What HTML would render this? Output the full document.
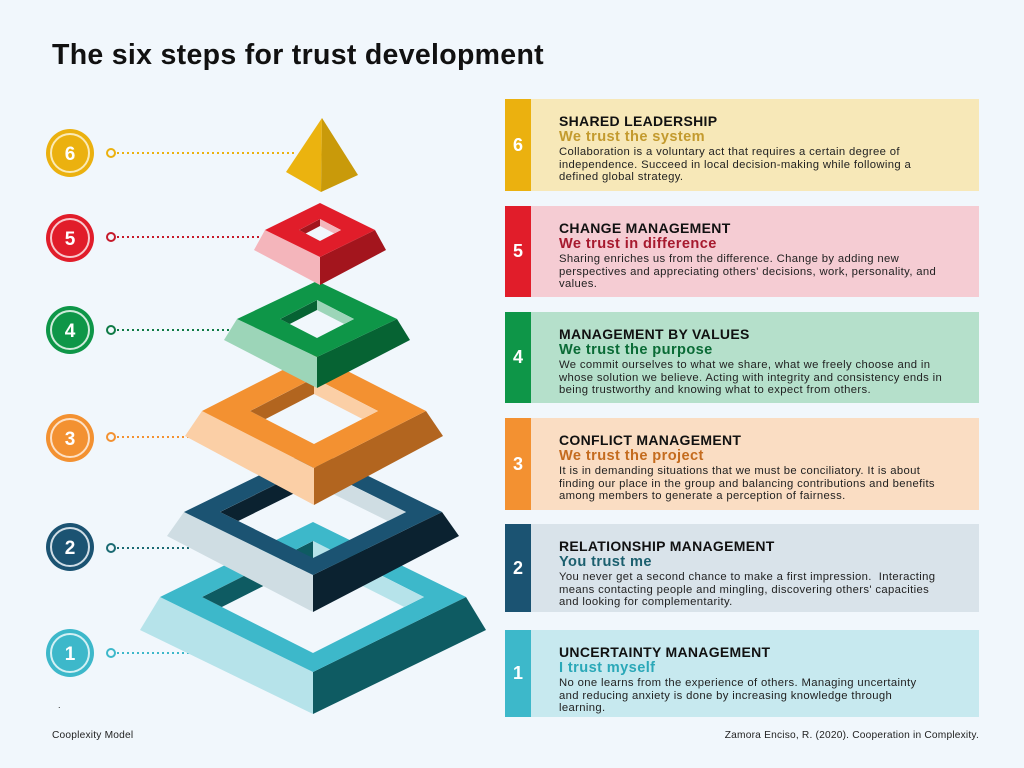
<!DOCTYPE html>
<html><head><meta charset="utf-8"><style>
body{margin:0;width:1024px;height:768px;background:#F1F7FC;position:relative;overflow:hidden;font-family:"Liberation Sans",sans-serif;}
h1{position:absolute;left:52px;top:39px;margin:0;font-size:28.5px;font-weight:bold;color:#111;letter-spacing:0.3px}
.card{position:absolute;left:505px;width:474px}
.strip{position:absolute;left:0;top:0;bottom:0;width:26px;color:#fff;font-weight:bold;font-size:18px;display:flex;align-items:center;justify-content:center}
.tx{position:absolute;left:54px;top:14px;width:420px}
.t{font-size:14px;font-weight:bold;color:#111;line-height:16px;letter-spacing:0.3px}
.s{font-size:14.6px;font-weight:bold;line-height:16px;letter-spacing:0.4px;margin-bottom:1px}
.b{font-size:11.3px;color:#222;line-height:12.5px;letter-spacing:0.35px;white-space:nowrap}
.foot{position:absolute;top:730px;font-size:10.2px;color:#222;letter-spacing:0.2px}
</style></head><body>
<h1>The six steps for trust development</h1>
<svg width="1024" height="768" style="position:absolute;left:0;top:0">
<defs>
<clipPath id="h1"><path d="M313 541L424 597L313 653L202 597Z"/></clipPath>
<clipPath id="h2"><path d="M313 466L406 512L313 558L220 512Z"/></clipPath>
<clipPath id="h3"><path d="M314 378L378 411L314 444L250 411Z"/></clipPath>
<clipPath id="h4"><path d="M317 300L354 319L317 338L280 319Z"/></clipPath>
<clipPath id="h5"><path d="M320 219L341 230L320 241L299 230Z"/></clipPath>
</defs>
<g font-family="Liberation Sans, sans-serif" font-weight="bold" font-size="19" fill="#fff" text-anchor="middle">
<g><circle cx="70" cy="153" r="24" fill="#EBB10F"/><circle cx="70" cy="153" r="19" fill="none" stroke="#FBEAB5" stroke-width="2"/><text x="70" y="160">6</text></g>
<g><circle cx="70" cy="238" r="24" fill="#E11D2A"/><circle cx="70" cy="238" r="19" fill="none" stroke="#F8C8CC" stroke-width="2"/><text x="70" y="245">5</text></g>
<g><circle cx="70" cy="330" r="24" fill="#0E9648"/><circle cx="70" cy="330" r="19" fill="none" stroke="#CFEBDB" stroke-width="2"/><text x="70" y="337">4</text></g>
<g><circle cx="70" cy="438" r="24" fill="#F39131"/><circle cx="70" cy="438" r="19" fill="none" stroke="#FDE0C4" stroke-width="2"/><text x="70" y="445">3</text></g>
<g><circle cx="70" cy="547" r="24" fill="#1B5372"/><circle cx="70" cy="547" r="19" fill="none" stroke="#CFDDE6" stroke-width="2"/><text x="70" y="554">2</text></g>
<g><circle cx="70" cy="653" r="24" fill="#3DB8CA"/><circle cx="70" cy="653" r="19" fill="none" stroke="#D3F0F4" stroke-width="2"/><text x="70" y="660">1</text></g>
</g>
<g fill="none" stroke-width="2">
<circle cx="111" cy="153" r="4" stroke="#EBB10F"/><line x1="117" y1="153" x2="296" y2="153" stroke="#EBB10F" stroke-dasharray="2 3"/>
<circle cx="111" cy="237" r="4" stroke="#C61A2A"/><line x1="117" y1="237" x2="263" y2="237" stroke="#C61A2A" stroke-dasharray="2 3"/>
<circle cx="111" cy="330" r="4" stroke="#0E7A45"/><line x1="117" y1="330" x2="246" y2="330" stroke="#0E7A45" stroke-dasharray="2 3"/>
<circle cx="111" cy="437" r="4" stroke="#F39131"/><line x1="117" y1="437" x2="221" y2="437" stroke="#F39131" stroke-dasharray="2 3"/>
<circle cx="111" cy="548" r="4" stroke="#1B6A72"/><line x1="117" y1="548" x2="204" y2="548" stroke="#1B6A72" stroke-dasharray="2 3"/>
<circle cx="111" cy="653" r="4" stroke="#3DB8CA"/><line x1="117" y1="653" x2="204" y2="653" stroke="#3DB8CA" stroke-dasharray="2 3"/>
</g>
<polygon points="160,597 313,672 313,714 140,630" fill="#B6E3EA"/>
<polygon points="313,672 466,597 486,630 313,714" fill="#0E5B62"/>
<path d="M313 522L466 597L313 672L160 597Z M313 541L424 597L313 653L202 597Z" fill="#3DB8CA" fill-rule="evenodd"/>
<g clip-path="url(#h1)"><polygon points="202,597 313,541 313,561 202,617" fill="#0E5B62"/><polygon points="313,541 424,597 424,617 313,561" fill="#B6E3EA"/></g>
<polygon points="184,512 313,575 313,612 167,536" fill="#CFDDE3"/>
<polygon points="313,575 442,512 459,536 313,612" fill="#0B2230"/>
<path d="M313 449L442 512L313 575L184 512Z M313 466L406 512L313 558L220 512Z" fill="#1B5372" fill-rule="evenodd"/>
<g clip-path="url(#h2)"><polygon points="220,512 313,466 313,484 220,530" fill="#0B2230"/><polygon points="313,466 406,512 406,530 313,484" fill="#CFDDE3"/></g>
<polygon points="202,411 314,468 314,505 185,436" fill="#FBCFA6"/>
<polygon points="314,468 426,411 443,436 314,505" fill="#B2651F"/>
<path d="M314 354L426 411L314 468L202 411Z M314 378L378 411L314 444L250 411Z" fill="#F39131" fill-rule="evenodd"/>
<g clip-path="url(#h3)"><polygon points="250,411 314,378 314,394 250,427" fill="#B2651F"/><polygon points="314,378 378,411 378,427 314,394" fill="#FBCFA6"/></g>
<polygon points="237,319 317,357 317,388 224,340" fill="#9CD5B8"/>
<polygon points="317,357 397,319 410,340 317,388" fill="#066333"/>
<path d="M317 281L397 319L317 357L237 319Z M317 300L354 319L317 338L280 319Z" fill="#0E9648" fill-rule="evenodd"/>
<g clip-path="url(#h4)"><polygon points="280,319 317,300 317,310 280,329" fill="#066333"/><polygon points="317,300 354,319 354,329 317,310" fill="#9CD5B8"/></g>
<polygon points="265,230 320,257 320,285 254,250" fill="#F4B5BB"/>
<polygon points="320,257 375,230 386,250 320,285" fill="#A3151D"/>
<path d="M320 203L375 230L320 257L265 230Z M320 219L341 230L320 241L299 230Z" fill="#E11D2A" fill-rule="evenodd"/>
<g clip-path="url(#h5)"><polygon points="299,230 320,219 320,226 299,237" fill="#A3151D"/><polygon points="320,219 341,230 341,237 320,226" fill="#F4B5BB"/></g>
<polygon points="322,118 286,172 321,192" fill="#EBB30F"/>
<polygon points="322,118 321,192 358,175" fill="#C99A0A"/>
<text x="58" y="708" font-size="9" fill="#222">.</text>
</svg>

<div class="card" style="top:99px;height:92px;background:#F7E8B8"><div class="strip" style="background:#EBB10F">6</div>
<div class="tx"><div class="t">SHARED LEADERSHIP</div><div class="s" style="color:#C39A2E">We trust the system</div>
<div class="b">Collaboration is a voluntary act that requires a certain degree of<br>independence. Succeed in local decision-making while following a<br>defined global strategy.</div></div></div>

<div class="card" style="top:206px;height:91px;background:#F5CCD3"><div class="strip" style="background:#E11D2A">5</div>
<div class="tx"><div class="t">CHANGE MANAGEMENT</div><div class="s" style="color:#A6192E">We trust in difference</div>
<div class="b">Sharing enriches us from the difference. Change by adding new<br>perspectives and appreciating others' decisions, work, personality, and<br>values.</div></div></div>

<div class="card" style="top:312px;height:91px;background:#B5E0CB"><div class="strip" style="background:#0E9648">4</div>
<div class="tx"><div class="t">MANAGEMENT BY VALUES</div><div class="s" style="color:#0A6B36">We trust the purpose</div>
<div class="b">We commit ourselves to what we share, what we freely choose and in<br>whose solution we believe. Acting with integrity and consistency ends in<br>being trustworthy and knowing what to expect from others.</div></div></div>

<div class="card" style="top:418px;height:92px;background:#FADDC3"><div class="strip" style="background:#F39131">3</div>
<div class="tx"><div class="t">CONFLICT MANAGEMENT</div><div class="s" style="color:#C46B1E">We trust the project</div>
<div class="b">It is in demanding situations that we must be conciliatory. It is about<br>finding our place in the group and balancing contributions and benefits<br>among members to generate a perception of fairness.</div></div></div>

<div class="card" style="top:524px;height:88px;background:#D9E3EA"><div class="strip" style="background:#1B5372">2</div>
<div class="tx"><div class="t">RELATIONSHIP MANAGEMENT</div><div class="s" style="color:#1B5F6E">You trust me</div>
<div class="b">You never get a second chance to make a first impression.&nbsp; Interacting<br>means contacting people and mingling, discovering others' capacities<br>and looking for complementarity.</div></div></div>

<div class="card" style="top:630px;height:87px;background:#C7E9EF"><div class="strip" style="background:#3DB8CA">1</div>
<div class="tx"><div class="t">UNCERTAINTY MANAGEMENT</div><div class="s" style="color:#2AA8B8">I trust myself</div>
<div class="b">No one learns from the experience of others. Managing uncertainty<br>and reducing anxiety is done by increasing knowledge through<br>learning.</div></div></div>

<div class="foot" style="left:52px">Cooplexity Model</div>
<div class="foot" style="right:45px">Zamora Enciso, R. (2020). Cooperation in Complexity.</div>
</body></html>
